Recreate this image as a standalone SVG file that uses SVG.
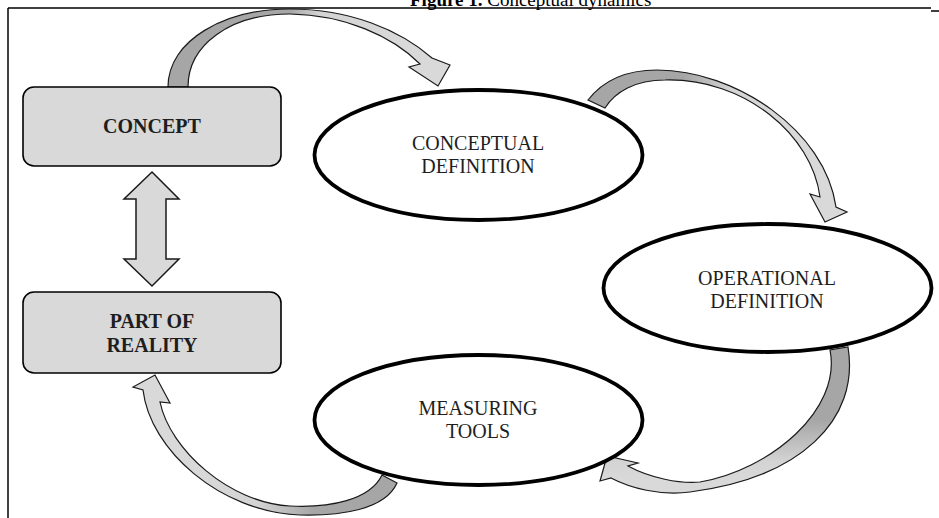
<svg xmlns="http://www.w3.org/2000/svg" width="939" height="518" viewBox="0 0 939 518">
<defs>
<style>
.frame{stroke:#000;stroke-width:1.5;fill:none}
.box{fill:#d9d9d9;stroke:#000;stroke-width:1.6}
.ell{fill:#fff;stroke:#000;stroke-width:3.8}
.arr{stroke:#1a1a1a;stroke-width:1.2;stroke-linejoin:miter}
.dbl{fill:#d9d9d9;stroke:#1a1a1a;stroke-width:1.5}
.lbl{font-family:"Liberation Serif","Times New Roman",serif;font-size:20px;fill:#1e1e1e;text-anchor:middle}
.b{font-weight:bold}
.title{font-family:"Liberation Serif","Times New Roman",serif;font-size:19px;fill:#000}
</style>
<linearGradient id="g1" gradientUnits="userSpaceOnUse" x1="200" y1="0" x2="400" y2="0">
<stop offset="0" stop-color="#a6a6a6"/><stop offset="0.45" stop-color="#a6a6a6"/><stop offset="0.6" stop-color="#d4d4d4"/><stop offset="1" stop-color="#d9d9d9"/>
</linearGradient>
<linearGradient id="g2" gradientUnits="userSpaceOnUse" x1="620" y1="0" x2="780" y2="0">
<stop offset="0" stop-color="#a6a6a6"/><stop offset="0.4" stop-color="#a6a6a6"/><stop offset="0.7" stop-color="#d4d4d4"/><stop offset="1" stop-color="#d9d9d9"/>
</linearGradient>
<linearGradient id="g3" gradientUnits="userSpaceOnUse" x1="0" y1="360" x2="0" y2="480">
<stop offset="0" stop-color="#a6a6a6"/><stop offset="0.5" stop-color="#a6a6a6"/><stop offset="0.85" stop-color="#d4d4d4"/><stop offset="1" stop-color="#d9d9d9"/>
</linearGradient>
<linearGradient id="g4" gradientUnits="userSpaceOnUse" x1="390" y1="0" x2="200" y2="0">
<stop offset="0" stop-color="#a6a6a6"/><stop offset="0.4" stop-color="#a6a6a6"/><stop offset="0.7" stop-color="#d4d4d4"/><stop offset="1" stop-color="#d9d9d9"/>
</linearGradient>
</defs>
<rect width="939" height="518" fill="#fff"/>
<g id="frame">
<line class="frame" x1="8" y1="8" x2="931" y2="8"/>
<line class="frame" x1="8" y1="8" x2="8" y2="518"/>
<line class="frame" x1="931" y1="11" x2="939" y2="11"/>
<text class="title" x="410" y="5.5"><tspan font-weight="bold">Figure 1.</tspan> Conceptual dynamics</text>
</g>
<g id="connectors">
<path class="arr" fill="url(#g1)" d="M 168,87 C 168,40 225,9 290,9 C 350,9 400,30 432,58 L 450,65 L 438,86 L 409,67 L 420,64 C 392,36 345,15 290,14 C 230,14 188,45 188,87 Z"/>
<path class="arr" fill="url(#g2)" d="M 588,100 C 605,78 630,70 657,70 C 735,70 825,130 836,207 L 847,212 L 825,222 L 810,194 L 820,197 C 812,135 745,78 665,80 C 635,80 615,92 605,108 Z"/>
<path class="arr" fill="url(#g3)" d="M 848,347 C 860,420 800,478 690,492 C 660,496 630,488 611,478 L 600,481 L 607,456 L 638,463 L 628,466 C 650,478 680,484 700,482 C 770,470 842,410 830,350 Z"/>
<path class="arr" fill="url(#g4)" d="M 397,483 C 385,510 340,516 300,515 C 220,512 150,450 143,390 L 133,387 L 155,375 L 170,403 L 160,402 C 170,450 230,503 290,506 C 330,508 370,500 382,475 Z"/>
<path class="dbl" d="M 152,172 L 179,199 L 166,199 L 166,259 L 179,259 L 152,286 L 124,259 L 136,259 L 136,199 L 124,199 Z"/>
</g>
<g id="concept">
<rect class="box" x="23" y="87" width="258" height="79" rx="11"/>
<text class="lbl b" x="152" y="133">CONCEPT</text>
</g>
<g id="reality">
<rect class="box" x="23" y="292" width="258" height="81" rx="11"/>
<text class="lbl b" x="152" y="328">PART OF</text>
<text class="lbl b" x="152" y="352">REALITY</text>
</g>
<g id="conceptual-definition">
<ellipse class="ell" cx="478.5" cy="155" rx="164" ry="65"/>
<text class="lbl" x="478" y="150">CONCEPTUAL</text>
<text class="lbl" x="478" y="173">DEFINITION</text>
</g>
<g id="operational-definition">
<ellipse class="ell" cx="767.5" cy="288" rx="164" ry="64"/>
<text class="lbl" x="767" y="285">OPERATIONAL</text>
<text class="lbl" x="767" y="308">DEFINITION</text>
</g>
<g id="measuring-tools">
<ellipse class="ell" cx="478.5" cy="420" rx="164" ry="65"/>
<text class="lbl" x="478" y="415">MEASURING</text>
<text class="lbl" x="478" y="438">TOOLS</text>
</g>
</svg>
